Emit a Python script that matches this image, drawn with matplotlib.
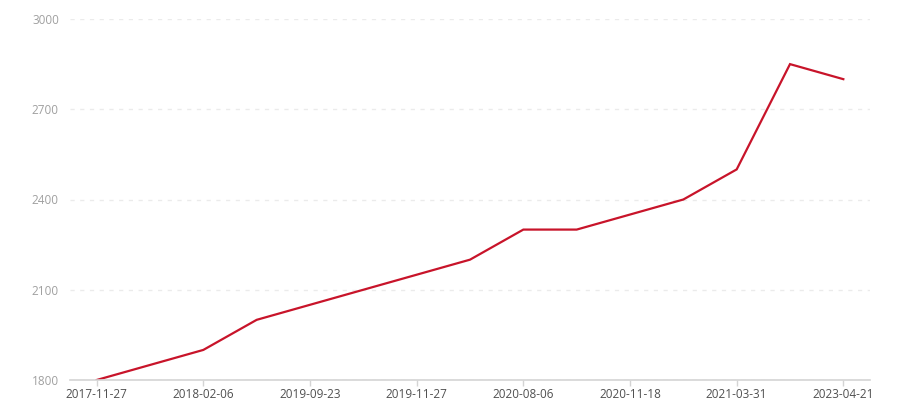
import matplotlib
matplotlib.use("Agg")
import matplotlib.pyplot as plt

plt.rcParams['font.family'] = ['Open Sans', 'DejaVu Sans']

values = [1800, 1850, 1900, 2000, 2050, 2100, 2150, 2200, 2300, 2300, 2350, 2400, 2500, 2850, 2800]
tick_labels = ['2017-11-27', '2018-02-06', '2019-09-23', '2019-11-27',
               '2020-08-06', '2020-11-18', '2021-03-31', '2023-04-21']
y_ticks = [1800, 2100, 2400, 2700, 3000]

fig = plt.figure(figsize=(9, 4), dpi=100)
ax = fig.add_axes([70/900, 0.05, 800/900, 0.9025])

x = list(range(len(values)))
ax.plot(x, values, color='#c8142a', linewidth=1.6, solid_joinstyle='miter')

ax.set_xlim(-0.5, len(values) - 0.5)
ax.set_ylim(1800, 3000)
ax.set_yticks(y_ticks)
ax.set_yticklabels([str(v) for v in y_ticks])
ax.set_xticks(x[::2])
ax.set_xticklabels(tick_labels)

ax.grid(axis='y', color='#ebebeb', linestyle=(0, (3, 4)), linewidth=1)
ax.set_axisbelow(True)
for s in ['top', 'right', 'left']:
    ax.spines[s].set_visible(False)
ax.spines['bottom'].set_color('#d4d4d4')
ax.spines['bottom'].set_linewidth(1.2)

ax.tick_params(axis='y', length=0, pad=8, labelsize=8.5, labelcolor='#a0a0a0')
ax.tick_params(axis='x', length=4, width=1, color='#d4d4d4', pad=2, labelsize=8.5, labelcolor='#505050')

fig.savefig('out.png', dpi=100)
